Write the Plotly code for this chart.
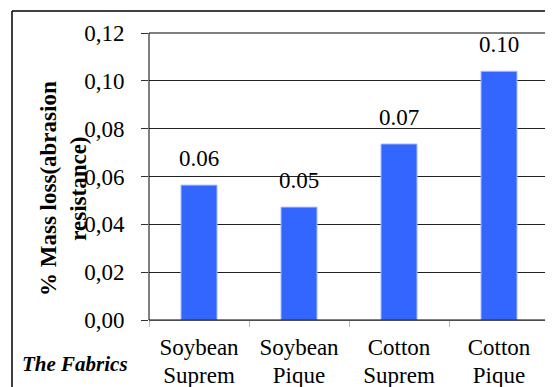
import plotly.graph_objects as go

categories = ["Soybean Suprem", "Soybean Pique", "Cotton Suprem", "Cotton Pique"]
values = [0.0564, 0.0472, 0.0736, 0.1040]
labels = ["0.06", "0.05", "0.07", "0.10"]
tick_vals = [0, 0.02, 0.04, 0.06, 0.08, 0.10, 0.12]
tick_text = ["0,00", "0,02", "0,04", "0,06", "0,08", "0,10", "0,12"]

FONT = "Liberation Serif"
# page is offset by the browser's default 8px body margin
OFF = 8
W, H = 553 - OFF, 387 - OFF
# plot area in page pixels: x 149..549, y 33..320
L, R, T, B = 149 - OFF, 553 - 549, 33 - OFF, 387 - 320
pw, ph = W - L - R, H - T - B

def px(xp):
    return (xp - OFF - L) / pw

def py(yp):
    return (H - B - (yp - OFF)) / ph

cat_text = [
    "<br>".join("<span style='font-size:23px'>%s</span>" % w for w in c.split(" "))
    for c in categories
]

fig = go.Figure()
fig.add_trace(go.Bar(
    x=categories, y=values,
    marker=dict(color="#3366FF", line=dict(color="#aabbff", width=1)),
    width=0.36,
))

value_annotations = [
    dict(x=c, y=v, xref="x", yref="y", text=t, showarrow=False,
         yanchor="bottom", yshift=12,
         font=dict(family=FONT, size=23, color="black"))
    for c, v, t in zip(categories, values, labels)
]

fig.update_layout(
    width=W, height=H,
    margin=dict(l=L, r=R, t=T, b=B, autoexpand=False),
    paper_bgcolor="white", plot_bgcolor="white",
    showlegend=False,
    font=dict(family=FONT, size=23, color="black"),
    xaxis=dict(
        tickvals=categories, ticktext=cat_text,
        showgrid=False, showline=True, linecolor="#999999", linewidth=1,
        ticks="outside", ticklen=6, tickcolor="#bbbbbb", tickson="boundaries",
        tickfont=dict(family=FONT, size=21), mirror=False, ticklabelstandoff=9,
        automargin=False,
    ),
    yaxis=dict(
        range=[0, 0.12], tickvals=tick_vals, ticktext=tick_text,
        showgrid=True, gridcolor="#222222", gridwidth=1,
        showline=False, ticks="outside", ticklen=7, tickcolor="#333333",
        tickfont=dict(family=FONT, size=23), zeroline=False,
        ticklabelstandoff=12, automargin=False,
    ),
    annotations=value_annotations + [
        dict(text="<b>% Mass loss(abrasion<br>resistance)</b>", textangle=-90,
             xref="paper", yref="paper", x=px(63), y=py(189),
             xanchor="center", yanchor="middle", showarrow=False,
             font=dict(family=FONT, size=23, color="black")),
        dict(text="<b><i>The Fabrics</i></b>",
             xref="paper", yref="paper", x=px(75), y=py(364),
             xanchor="center", yanchor="middle", showarrow=False,
             font=dict(family=FONT, size=21, color="black")),
    ],
    shapes=[
        dict(type="rect", xref="paper", yref="paper", x0=0, y0=0, x1=1, y1=1,
             line=dict(color="black", width=1), layer="above"),
        dict(type="line", xref="paper", yref="paper", x0=px(12), y0=py(11), x1=px(560), y1=py(11),
             line=dict(color="black", width=1.5)),
        dict(type="line", xref="paper", yref="paper", x0=px(12), y0=py(11), x1=px(12), y1=py(395),
             line=dict(color="black", width=1.5)),
    ],
)

fig.write_html("out.html")
